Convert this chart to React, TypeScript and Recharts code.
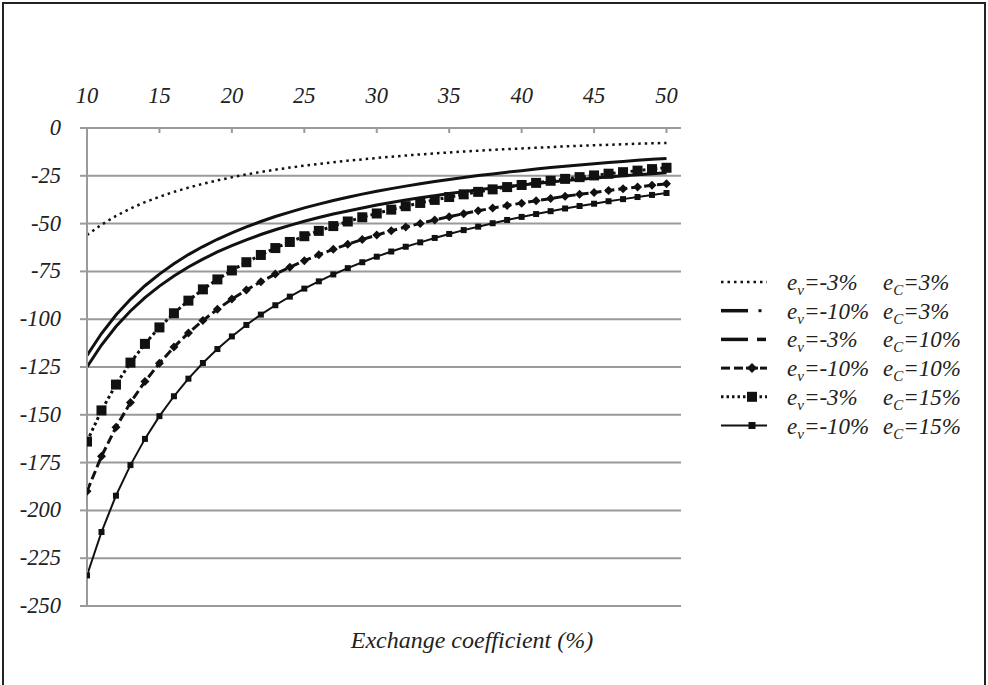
import React from 'react';
import { LineChart, Line, XAxis, YAxis, CartesianGrid, Legend } from 'recharts';

const exchangeCoef = [10, 11, 12, 13, 14, 15, 16, 17, 18, 19, 20, 21, 22, 23, 24, 25, 26, 27, 28, 29, 30, 31, 32, 33, 34, 35, 36, 37, 38, 39, 40, 41, 42, 43, 44, 45, 46, 47, 48, 49, 50];

// e_v=-3%  e_C=3%
const s1 = [-56.0, -50.6, -46.0, -42.1, -38.8, -36.0, -33.4, -31.2, -29.2, -27.4, -25.8, -24.3, -23.0, -21.8, -20.7, -19.7, -18.8, -17.9, -17.1, -16.4, -15.7, -15.0, -14.4, -13.8, -13.3, -12.8, -12.3, -11.9, -11.4, -11.0, -10.7, -10.3, -10.0, -9.6, -9.3, -9.0, -8.8, -8.5, -8.2, -8.0, -7.8];
// e_v=-10%  e_C=3%
const s2 = [-119.0, -107.5, -97.8, -89.6, -82.5, -76.4, -71.0, -66.2, -62.0, -58.2, -54.8, -51.7, -48.9, -46.3, -44.0, -41.8, -39.8, -37.9, -36.2, -34.6, -33.1, -31.7, -30.4, -29.2, -28.0, -26.9, -25.9, -24.9, -24.0, -23.1, -22.3, -21.5, -20.7, -20.0, -19.3, -18.7, -18.1, -17.5, -16.9, -16.4, -15.9];
// e_v=-3%  e_C=10%
const s3 = [-125.0, -113.5, -103.8, -95.7, -88.7, -82.7, -77.4, -72.7, -68.6, -64.8, -61.5, -58.5, -55.7, -53.2, -50.9, -48.8, -46.8, -45.0, -43.4, -41.8, -40.3, -39.0, -37.7, -36.5, -35.4, -34.3, -33.3, -32.3, -31.4, -30.6, -29.8, -29.0, -28.2, -27.5, -26.9, -26.2, -25.6, -25.0, -24.5, -23.9, -23.4];
// e_v=-10%  e_C=10%
const s4 = [-190.0, -171.7, -156.5, -143.6, -132.6, -123.0, -114.6, -107.2, -100.7, -94.8, -89.5, -84.7, -80.4, -76.4, -72.8, -69.4, -66.3, -63.4, -60.8, -58.3, -56.0, -53.8, -51.8, -49.9, -48.1, -46.4, -44.8, -43.3, -41.9, -40.5, -39.3, -38.0, -36.9, -35.7, -34.7, -33.7, -32.7, -31.8, -30.9, -30.0, -29.2];
// e_v=-3%  e_C=15%
const s5 = [-164.0, -147.7, -134.2, -122.7, -112.9, -104.3, -96.9, -90.3, -84.4, -79.2, -74.5, -70.2, -66.4, -62.8, -59.6, -56.6, -53.8, -51.3, -48.9, -46.7, -44.7, -42.7, -40.9, -39.2, -37.6, -36.1, -34.7, -33.4, -32.1, -30.9, -29.8, -28.7, -27.6, -26.6, -25.7, -24.8, -23.9, -23.1, -22.3, -21.5, -20.8];
// e_v=-10%  e_C=15%
const s6 = [-234.0, -211.3, -192.3, -176.3, -162.6, -150.7, -140.3, -131.1, -122.9, -115.6, -109.0, -103.0, -97.6, -92.7, -88.2, -84.0, -80.2, -76.6, -73.3, -70.2, -67.3, -64.6, -62.1, -59.8, -57.5, -55.4, -53.4, -51.6, -49.8, -48.1, -46.5, -45.0, -43.5, -42.1, -40.8, -39.6, -38.3, -37.2, -36.1, -35.0, -34.0];

const xTicks = [10, 15, 20, 25, 30, 35, 40, 45, 50];
const yTicks = [0, -25, -50, -75, -100, -125, -150, -175, -200, -225, -250];
const evLabels = ['-3%', '-10%', '-3%', '-10%', '-3%', '-10%'];
const ecLabels = ['3%', '3%', '10%', '10%', '15%', '15%'];
const xTitle = 'Exchange coefficient (%)';

const data = exchangeCoef.map((x, i) => ({ x, s1: s1[i], s2: s2[i], s3: s3[i], s4: s4[i], s5: s5[i], s6: s6[i] }));

const FONT = "'Liberation Serif', Tinos, 'Times New Roman', Times, serif";
const INK = '#111';
const TXT = '#222';
const GRID = '#9a9a9a';

function XTick(props: any) {
  const { x, payload } = props;
  return (
    <g>
      <line x1={x} x2={x} y1={128} y2={133} stroke={GRID} strokeWidth={2} />
      <text x={x} y={103} textAnchor="middle" style={{ fontFamily: FONT, fontStyle: 'italic', fontSize: 22.5 }} fill={TXT}>
        {payload.value}
      </text>
    </g>
  );
}

function YTick(props: any) {
  const { y, payload } = props;
  return (
    <text x={61} y={y + 7} textAnchor="end" style={{ fontFamily: FONT, fontStyle: 'italic', fontSize: 22.5 }} fill={TXT}>
      {payload.value}
    </text>
  );
}

const squareDot = (size: number) => (props: any) => {
  const { cx, cy, index } = props;
  if (cx == null || cy == null) return <g key={index} />;
  return <rect key={index} x={cx - size / 2} y={cy - size / 2} width={size} height={size} fill={INK} />;
};

const diamondDot = (size: number) => (props: any) => {
  const { cx, cy, index } = props;
  if (cx == null || cy == null) return <g key={index} />;
  const h = size / 2;
  return <polygon key={index} points={`${cx},${cy - h} ${cx + h},${cy} ${cx},${cy + h} ${cx - h},${cy}`} fill={INK} />;
};

function LegendSample({ i, cy }: { i: number; cy: number }) {
  const x0 = 721;
  const x1 = 767;
  const mid = 752;
  if (i === 0) return <line x1={x0} x2={x1} y1={cy} y2={cy} stroke={INK} strokeWidth={2.5} strokeDasharray="2.5 4" />;
  if (i === 1)
    return (
      <g>
        <line x1={x0} x2={748} y1={cy} y2={cy} stroke={INK} strokeWidth={3.5} />
        <rect x={758.5} y={cy - 1.5} width={3} height={3} fill={INK} />
      </g>
    );
  if (i === 2)
    return (
      <g>
        <line x1={x0} x2={748} y1={cy} y2={cy} stroke={INK} strokeWidth={3.5} />
        <line x1={757} x2={766} y1={cy} y2={cy} stroke={INK} strokeWidth={3.5} />
      </g>
    );
  if (i === 3)
    return (
      <g>
        <line x1={x0} x2={730} y1={cy} y2={cy} stroke={INK} strokeWidth={3} />
        <line x1={734} x2={743} y1={cy} y2={cy} stroke={INK} strokeWidth={3} />
        <line x1={746} x2={758} y1={cy} y2={cy} stroke={INK} strokeWidth={3} />
        <polygon points={`${mid},${cy - 5} ${mid + 5},${cy} ${mid},${cy + 5} ${mid - 5},${cy}`} fill={INK} />
        <line x1={760} x2={767} y1={cy} y2={cy} stroke={INK} strokeWidth={3} />
      </g>
    );
  if (i === 4)
    return (
      <g>
        <line x1={x0} x2={x1} y1={cy} y2={cy} stroke={INK} strokeWidth={3} strokeDasharray="2.5 3" />
        <rect x={mid - 5} y={cy - 5} width={10} height={10} fill={INK} />
      </g>
    );
  return (
    <g>
      <line x1={x0} x2={x1} y1={cy} y2={cy} stroke={INK} strokeWidth={2} />
      <rect x={mid - 3.5} y={cy - 3.5} width={7} height={7} fill={INK} />
    </g>
  );
}

function LegendContent() {
  const ts = { fontFamily: FONT, fontStyle: 'italic' as const, fontSize: 23 };
  return (
    <svg width={988} height={685} style={{ position: 'absolute', left: 0, top: 0, overflow: 'visible' }}>
      {evLabels.map((ev, i) => {
        const cy = 282 + i * 28.7;
        return (
          <g key={i}>
            <LegendSample i={i} cy={cy} />
            <text x={787} y={cy + 8} style={ts} fill={TXT}>
              <tspan>e</tspan>
              <tspan dy={5} style={{ fontSize: 15 }}>v</tspan>
              <tspan dy={-5}>{'=' + ev}</tspan>
            </text>
            <text x={883} y={cy + 8} style={ts} fill={TXT}>
              <tspan>e</tspan>
              <tspan dy={5} style={{ fontSize: 15 }}>C</tspan>
              <tspan dy={-5}>{'=' + ecLabels[i]}</tspan>
            </text>
          </g>
        );
      })}
    </svg>
  );
}

export default function App() {
  return (
    <div style={{ position: 'absolute', left: 0, top: 0, width: 988, height: 685, background: '#fff', overflow: 'hidden' }}>
      <div
        style={{
          position: 'absolute',
          left: 2,
          top: 2,
          width: 984,
          height: 720,
          border: '2px solid #222',
          boxSizing: 'border-box',
        }}
      />
      <LineChart width={988} height={685} data={data} margin={{ top: 98, right: 307, bottom: 79, left: 47 }} style={{ position: 'absolute', left: 0, top: 0 }}>
        <CartesianGrid vertical={false} stroke={GRID} strokeWidth={2} />
        <XAxis
          dataKey="x"
          type="number"
          orientation="top"
          domain={[10, 51]}
          ticks={xTicks}
          height={30}
          allowDataOverflow
          axisLine={{ stroke: GRID, strokeWidth: 2 }}
          tickLine={false}
          tick={<XTick />}
          interval={0}
        />
        <YAxis
          type="number"
          domain={[-250, 0]}
          ticks={yTicks}
          width={40}
          axisLine={{ stroke: GRID, strokeWidth: 2 }}
          tickLine={{ stroke: GRID, strokeWidth: 2 }}
          tickSize={7}
          tick={<YTick />}
          interval={0}
        />
        <Legend layout="vertical" align="center" verticalAlign="middle" wrapperStyle={{ left: 0, top: 0, width: 988, height: 685, pointerEvents: 'none' }} content={<LegendContent />} />
        <Line type="linear" dataKey="s1" stroke={INK} strokeWidth={2.5} strokeDasharray="2.5 4" dot={false} isAnimationActive={false} />
        <Line type="linear" dataKey="s2" stroke={INK} strokeWidth={3} dot={false} isAnimationActive={false} />
        <Line type="linear" dataKey="s3" stroke={INK} strokeWidth={3} dot={false} isAnimationActive={false} />
        <Line type="linear" dataKey="s4" stroke={INK} strokeWidth={3} strokeDasharray="9 4" dot={diamondDot(9)} isAnimationActive={false} />
        <Line type="linear" dataKey="s5" stroke={INK} strokeWidth={3} strokeDasharray="3 3" dot={squareDot(10)} isAnimationActive={false} />
        <Line type="linear" dataKey="s6" stroke={INK} strokeWidth={2} dot={squareDot(6)} isAnimationActive={false} />
      </LineChart>
      <div
        style={{
          position: 'absolute',
          left: 0,
          width: 944,
          top: 625,
          textAlign: 'center',
          fontFamily: FONT,
          fontStyle: 'italic',
          fontSize: 24,
          color: TXT,
          lineHeight: '30px',
        }}
      >
        {xTitle}
      </div>
    </div>
  );
}
